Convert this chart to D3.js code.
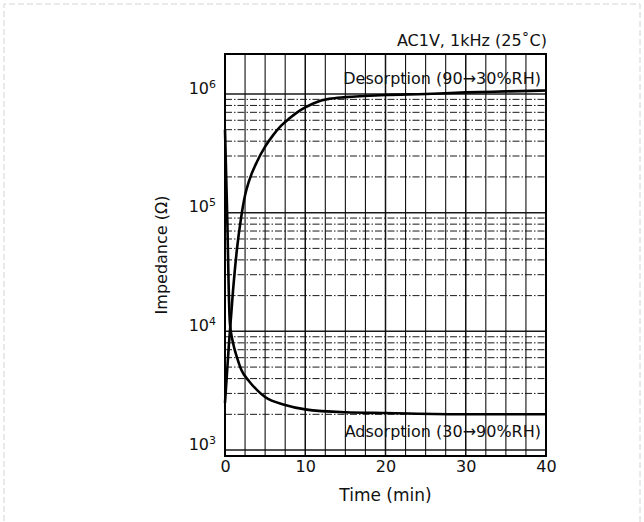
<!DOCTYPE html>
<html>
<head>
<meta charset="utf-8">
<script src="https://cdn.jsdelivr.net/npm/d3@7"></script>
<style>
  body { margin: 0; background: #fff; }
  text { font-family: "DejaVu Sans", "Liberation Sans", sans-serif; fill: #111; }
</style>
</head>
<body>
<div id="chart"></div>
<script>
// time axis (min) and impedance (ohm)
const x_ticks = [0, 10, 20, 30, 40];
const y_ticks = [1e3, 1e4, 1e5, 1e6];
const y_exp = ["3", "4", "5", "6"];

const des_t = [0, 0.5, 1, 1.5, 2, 2.5, 3, 4, 5, 6, 7, 8, 9, 10, 11, 12, 13, 15, 20, 25, 30, 35, 40];
const des_z = [2.5e3, 8e3, 2.2e4, 5e4, 9e4, 1.4e5, 1.85e5, 2.7e5, 3.6e5, 4.5e5, 5.4e5, 6.2e5, 7.0e5, 7.7e5, 8.3e5, 8.8e5, 9.1e5, 9.4e5, 9.8e5, 1.0e6, 1.03e6, 1.05e6, 1.07e6];

const ads_t = [0, 0.15, 0.3, 0.45, 0.6, 1, 1.5, 2, 3, 4, 5, 7.5, 10, 15, 20, 30, 40];
const ads_z = [5e5, 2e5, 8e4, 2.5e4, 1.2e4, 8e3, 6e3, 4.8e3, 3.8e3, 3.2e3, 2.8e3, 2.4e3, 2.2e3, 2.08e3, 2.05e3, 2.0e3, 2.0e3];

const width = 644;
const height = 522;
const margin = {top: 54, bottom: 66, left: 225, right: 98};

const svg = d3.select('#chart')
    .append('svg')
    .attr('width', width)
    .attr('height', height);

// faint outer frame of the scanned page
svg.append("path")
    .attr("d", "M4,530 V4 H640 V530")
    .attr("fill", "none")
    .attr("stroke", "#d4d4d4")
    .attr("stroke-dasharray", "6,3")
    .attr("stroke-width", 1);

const x = d3.scaleLinear()
    .domain([0, 40])
    .range([margin.left, width - margin.right]);

const y = d3.scaleLog()
    .domain([891, 2.17e6])
    .range([height - margin.bottom, margin.top]);

// horizontal grid: 1..9 x each decade from 10^3 to 10^6
let h_grid = [];
for (let d = 3; d < 6; d++) {
    for (let m = 1; m < 10; m++) {
        h_grid.push(m * Math.pow(10, d));
    }
}
h_grid.push(1e6);

const is_decade = d => Math.abs(Math.log10(d) - Math.round(Math.log10(d))) < 1e-6;

svg.append("g")
    .selectAll("line")
    .data(h_grid)
    .join("line")
        .attr("x1", x(0))
        .attr("x2", x(40))
        .attr("y1", d => y(d))
        .attr("y2", d => y(d))
        .attr("stroke", "#1a1a1a")
        .attr("stroke-width", d => is_decade(d) ? 1.5 : 1)
        .attr("stroke-dasharray", d => is_decade(d) ? null : "7,2,1.5,2");

// vertical grid every 2.5 min
const v_grid = d3.range(2.5, 40, 2.5);
svg.append("g")
    .selectAll("line")
    .data(v_grid)
    .join("line")
        .attr("x1", d => x(d))
        .attr("x2", d => x(d))
        .attr("y1", margin.top)
        .attr("y2", height - margin.bottom)
        .attr("stroke", "#111")
        .attr("stroke-width", d => d % 10 === 0 ? 1.5 : 1.1);

// frame
svg.append("rect")
    .attr("x", x(0))
    .attr("y", margin.top)
    .attr("width", x(40) - x(0))
    .attr("height", height - margin.bottom - margin.top)
    .attr("fill", "none")
    .attr("stroke", "#000")
    .attr("stroke-width", 2);

const line = d3.line()
    .x(d => x(d[0]))
    .y(d => y(d[1]))
    .curve(d3.curveMonotoneX);

svg.append("path")
    .datum(d3.zip(des_t, des_z))
    .attr("d", line)
    .attr("fill", "none")
    .attr("stroke", "#000")
    .attr("stroke-width", 2.6);

svg.append("path")
    .datum(d3.zip(ads_t, ads_z))
    .attr("d", line)
    .attr("fill", "none")
    .attr("stroke", "#000")
    .attr("stroke-width", 2.6);

function xAxis(g) {
    g.attr("transform", `translate(0,${height - margin.bottom})`)
        .call(d3.axisBottom(x).tickValues(x_ticks).tickSize(0).tickPadding(5))
        .attr("font-size", "16px")
        .attr("font-family", null);
    g.select(".domain").remove();
}

function yAxis(g) {
    g.attr("transform", `translate(${margin.left}, 0)`)
        .call(d3.axisLeft(y).tickValues(y_ticks).tickSize(0).tickPadding(9).tickFormat(""))
        .attr("font-size", "16px")
        .attr("font-family", null);
    g.select(".domain").remove();
    g.selectAll(".tick text").each(function (d, i) {
        const t = d3.select(this).attr("dy", "-0.05em");
        t.append("tspan").text("10");
        t.append("tspan").text(y_exp[i]).attr("font-size", "11px").attr("dy", "-0.55em");
    });
}

svg.append("g").call(xAxis);
svg.append("g").call(yAxis);

svg.append("text")
    .attr("text-anchor", "middle")
    .attr("x", (x(0) + x(40)) / 2)
    .attr("y", 501)
    .attr("font-size", "17px")
    .text("Time (min)");

svg.append("text")
    .attr("text-anchor", "middle")
    .attr("transform", `translate(167,${(margin.top + height - margin.bottom) / 2}) rotate(-90)`)
    .attr("font-size", "16px")
    .text("Impedance (Ω)");

svg.append("text")
    .attr("text-anchor", "end")
    .attr("x", 547)
    .attr("y", 46)
    .attr("font-size", "16px")
    .text("AC1V, 1kHz (25˚C)");

svg.append("text")
    .attr("text-anchor", "end")
    .attr("x", 541)
    .attr("y", 84)
    .attr("font-size", "16px")
    .text("Desorption (90→30%RH)");

svg.append("text")
    .attr("text-anchor", "end")
    .attr("x", 541)
    .attr("y", 437)
    .attr("font-size", "16px")
    .text("Adsorption (30→90%RH)");
</script>
</body>
</html>
